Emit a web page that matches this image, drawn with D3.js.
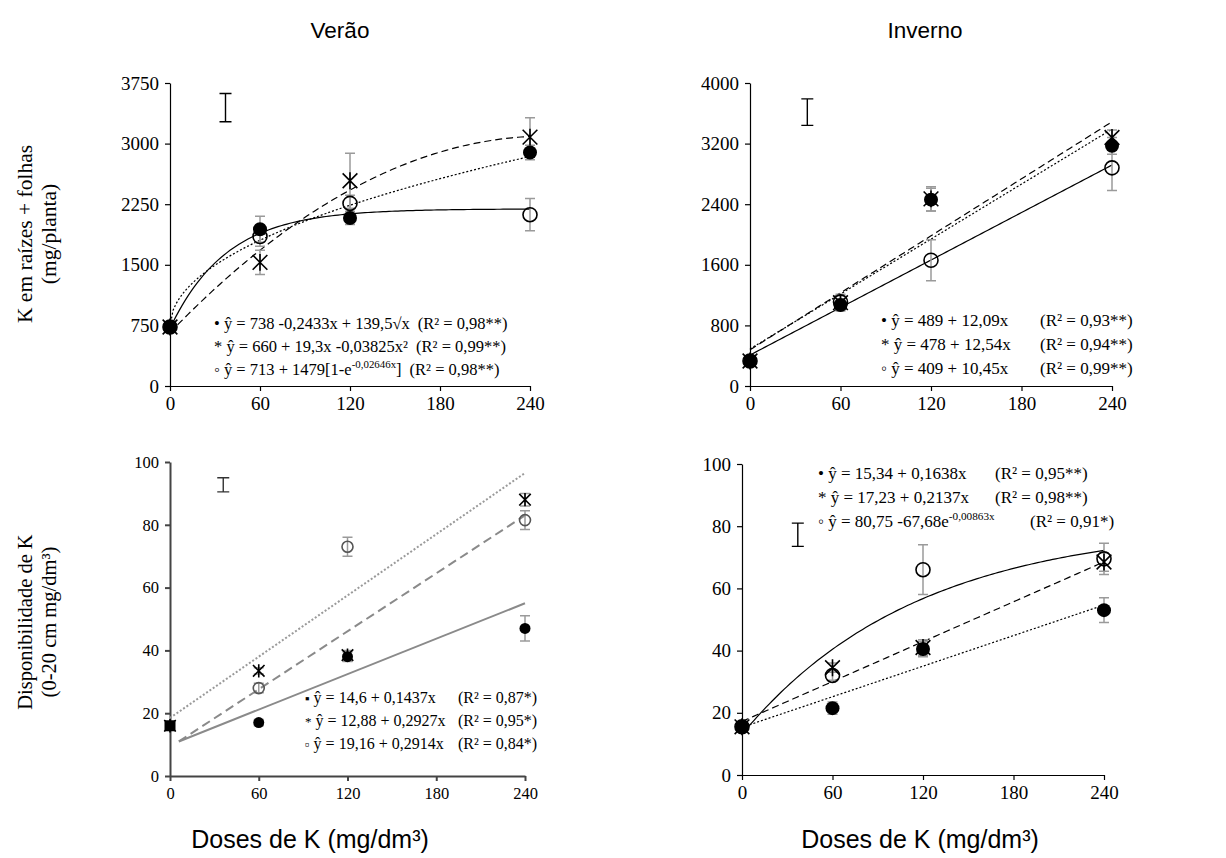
<!DOCTYPE html>
<html><head><meta charset="utf-8">
<script src="https://cdn.jsdelivr.net/npm/d3@7"></script>
<style>body{margin:0;background:#fff}svg{display:block}
.serif{font-family:"Liberation Serif","Times New Roman",Times,serif}
.sans{font-family:"Liberation Sans",Arial,Helvetica,sans-serif}
</style>
</head><body>
<svg id="c" width="1226" height="858"></svg>
<script>
// ---------- DATA ----------
const doses = [0, 60, 120, 240];
const xTickValues = [0, 60, 120, 180, 240];

// Panel A: Verão – K em raízes + folhas
const aTicks = [0, 750, 1500, 2250, 3000, 3750];
const aFilled = [730, 1940, 2080, 2890];
const aAst = [730, 1530, 2540, 3080];
const aOpen = [730, 1850, 2260, 2120];
const aFilledErr = [0, 160, 80, 90];
const aAstErr = [0, 150, 340, 240];
const aOpenErr = [0, 120, 100, 200];
const aMeanBar = [37, 3270, 3620];
const aFitFilled = [738, -0.2433, 139.5];   // a + b x + c sqrt(x)
const aFitAst = [660, 19.3, -0.03825];      // a + b x + c x^2
const aFitOpen = [713, 1479, -0.02646];     // a + b (1 - e^(c x))
const aSymbols = ["•", "*", "◦"];
const aEq = ["ŷ = 738 -0,2433x + 139,5√x", "ŷ = 660 + 19,3x -0,03825x²", "ŷ = 713 + 1479[1-e^{-0,02646x}]"];
const aR2 = ["(R² = 0,98**)", "(R² = 0,99**)", "(R² = 0,98**)"];

// Panel B: Inverno – K em raízes + folhas
const bTicks = [0, 800, 1600, 2400, 3200, 4000];
const bFilled = [330, 1070, 2460, 3170];
const bAst = [330, 1100, 2470, 3280];
const bOpen = [330, 1110, 1660, 2880];
const bFilledErr = [40, 80, 150, 110];
const bAstErr = [40, 90, 160, 100];
const bOpenErr = [40, 100, 270, 300];
const bMeanBar = [38, 3440, 3790];
const bFitFilled = [489, 12.09];
const bFitAst = [478, 12.54];
const bFitOpen = [409, 10.45];
const bSymbols = ["•", "*", "◦"];
const bEq = ["ŷ = 489 + 12,09x", "ŷ = 478 + 12,54x", "ŷ = 409 + 10,45x"];
const bR2 = ["(R² = 0,93**)", "(R² = 0,94**)", "(R² = 0,99**)"];

// Panel C: Verão – Disponibilidade de K
const cTicks = [0, 20, 40, 60, 80, 100];
const cFilled = [16, 17, 38, 47];
const cAst = [16, 33.5, 38.5, 88];
const cOpen = [16, 28, 73, 81.5];
const cFilledErr = [0, 1, 1.5, 4];
const cAstErr = [0, 1, 1.5, 2];
const cOpenErr = [0, 1.5, 3, 3];
const cMeanBar = [36, 90.5, 95];
const cLineFilled = [[6, 11], [240, 55]];
const cLineAst = [[6, 11], [240, 83]];
const cLineOpen = [[0, 18.5], [240, 96.5]];
const cSymbols = ["▪", "*", "▫"];
const cEq = ["ŷ = 14,6 + 0,1437x", "ŷ = 12,88 + 0,2927x", "ŷ = 19,16 + 0,2914x"];
const cR2 = ["(R² = 0,87*)", "(R² = 0,95*)", "(R² = 0,84*)"];

// Panel D: Inverno – Disponibilidade de K
const dTicks = [0, 20, 40, 60, 80, 100];
const dFilled = [15.5, 21.5, 40.5, 53];
const dAst = [15.5, 34.5, 41, 68.5];
const dOpen = [15.5, 32, 66, 69.5];
const dFilledErr = [1, 2, 2.5, 4];
const dAstErr = [1, 1.5, 2.5, 3];
const dOpenErr = [1, 1.5, 8, 5];
const dMeanBar = [37, 73.5, 81];
const dFitFilled = [15.34, 0.1638];
const dFitAst = [17.23, 0.2137];
const dFitOpen = [80.75, -67.68, -0.00863]; // a + b e^(c x)
const dSymbols = ["•", "*", "◦"];
const dEq = ["ŷ = 15,34 + 0,1638x", "ŷ = 17,23 + 0,2137x", "ŷ = 80,75 -67,68e^{-0,00863x}"];
const dR2 = ["(R² = 0,95**)", "(R² = 0,98**)", "(R² = 0,91*)"];

const titles = ["Verão", "Inverno"];
const xTitle = "Doses de K (mg/dm³)";
const yTitleTop = ["K em raízes + folhas", "(mg/planta)"];
const yTitleBottom = ["Disponibilidade de K", "(0-20 cm mg/dm³)"];

// ---------- DRAW ----------
const svg = d3.select("#c");
const xs = d3.range(0, 240.01, 2);

function richText(t, str, fs) {
  const parts = str.split(/(\^\{[^}]*\})/);
  let up = false;
  parts.forEach(p => {
    if (!p) return;
    if (p.startsWith("^{")) {
      t.append("tspan").style("font-size", (fs * 0.66) + "px").attr("dy", -fs * 0.4).text(p.slice(2, -1));
      up = true;
    } else {
      const s = t.append("tspan").text(p);
      if (up) { s.attr("dy", fs * 0.4); up = false; }
    }
  });
}

function asterisk(g, cx, cy, s, col, w) {
  g.append("path")
    .attr("d", `M${cx - s},${cy - s}L${cx + s},${cy + s}M${cx - s},${cy + s}L${cx + s},${cy - s}M${cx},${cy - s * 1.15}L${cx},${cy + s * 1.15}`)
    .attr("stroke", col).attr("stroke-width", w).attr("fill", "none");
}

function panel(o) {
  const g = svg.append("g");
  const x = d3.scaleLinear().domain([0, 240]).range([o.x0, o.x1]);
  const y = d3.scaleLinear().domain([0, o.yMax]).range([o.yB, o.yT]);
  const axCol = o.axCol || "#000";
  const xa = g.append("g").attr("transform", `translate(0,${o.yB})`)
    .call(d3.axisBottom(x).tickValues(xTickValues).tickFormat(d3.format("d")).tickSize(5).tickSizeOuter(0).tickPadding(6));
  const ya = g.append("g").attr("transform", `translate(${o.x0},0)`)
    .call(d3.axisLeft(y).tickValues(o.ticks).tickFormat(d3.format("d")).tickSize(5).tickSizeOuter(0).tickPadding(6));
  [xa, ya].forEach(a => {
    a.attr("font-family", null).attr("font-size", null);
    a.selectAll("path,line").attr("stroke", axCol).attr("stroke-width", o.axW || 1.2);
    a.selectAll("text").attr("class", "serif").style("font-size", (o.tickFs || 19) + "px").attr("fill", "#000");
  });

  // fitted lines
  const lineGen = d3.line().x(d => x(d[0])).y(d => y(d[1]));
  o.lines.forEach(L => {
    g.append("path").attr("d", lineGen(L.pts)).attr("fill", "none")
      .attr("stroke", L.col || "#000").attr("stroke-width", L.w || 1.2)
      .attr("stroke-dasharray", L.dash || null);
  });

  // mean bar (DMS)
  const mb = o.meanBar, cap = 6;
  g.append("path").attr("d",
    `M${x(mb[0])},${y(mb[1])}V${y(mb[2])}M${x(mb[0]) - cap},${y(mb[1])}H${x(mb[0]) + cap}M${x(mb[0]) - cap},${y(mb[2])}H${x(mb[0]) + cap}`)
    .attr("stroke", o.mbCol || "#000").attr("stroke-width", 1.4).attr("fill", "none");

  // error bars
  o.series.forEach(S => {
    doses.forEach((d, i) => {
      const e = S.err[i];
      if (!e) return;
      const cx = x(d), lo = y(S.v[i] - e), hi = y(S.v[i] + e);
      g.append("path").attr("d", `M${cx},${lo}V${hi}M${cx - 5},${lo}H${cx + 5}M${cx - 5},${hi}H${cx + 5}`)
        .attr("stroke", "#9a9a9a").attr("stroke-width", 1.5).attr("fill", "none");
    });
  });

  // markers
  const r = o.r || 7;
  o.series.forEach(S => {
    doses.forEach((d, i) => {
      const cx = x(d), cy = y(S.v[i]);
      if (S.type === "filled") {
        if (o.squareAt0 && i === 0) {
          g.append("rect").attr("x", cx - r).attr("y", cy - r).attr("width", 2 * r).attr("height", 2 * r).attr("fill", "#000");
        } else g.append("circle").attr("cx", cx).attr("cy", cy).attr("r", r).attr("fill", "#000");
      } else if (S.type === "open") {
        if (!(o.squareAt0 && i === 0))
          g.append("circle").attr("cx", cx).attr("cy", cy).attr("r", r).attr("fill", "none").attr("stroke", o.openCol || "#000").attr("stroke-width", 1.6);
      } else {
        asterisk(g, cx, cy, r * 1.05, "#000", 1.6);
      }
    });
  });

  // legend
  o.legend.eq.forEach((eq, i) => {
    const yy = o.legend.y + i * o.legend.dy;
    const t = g.append("text").attr("x", o.legend.x).attr("y", yy).attr("class", "serif")
      .style("font-size", o.legend.fs + "px").attr("fill", "#000");
    const sy = t.append("tspan").text(o.legend.sym[i]);
    if (o.legend.symFs) sy.style("font-size", o.legend.symFs + "px");
    t.append("tspan").text(" ");
    richText(t, eq, o.legend.fs);
    const end = o.legend.x + t.node().getComputedTextLength();
    g.append("text").attr("x", Math.max(o.legend.rx[i], end + 8)).attr("y", yy).attr("class", "serif")
      .style("font-size", o.legend.fs + "px").attr("fill", "#000")
      .text(o.legend.r2[i]);
  });
}

// curves from printed regression coefficients
const sqrtModel = c => xs.map(v => [v, c[0] + c[1] * v + c[2] * Math.sqrt(v)]);
const quadModel = c => xs.map(v => [v, c[0] + c[1] * v + c[2] * v * v]);
const asympModel = c => xs.map(v => [v, c[0] + c[1] * (1 - Math.exp(c[2] * v))]);
const linModel = c => xs.map(v => [v, c[0] + c[1] * v]);
const expModel = c => xs.map(v => [v, c[0] + c[1] * Math.exp(c[2] * v)]);

panel({
  x0: 170, x1: 530, yB: 386, yT: 83, yMax: 3750, ticks: aTicks, meanBar: aMeanBar,
  lines: [
    { pts: asympModel(aFitOpen) },
    { pts: sqrtModel(aFitFilled), dash: "2,2" },
    { pts: quadModel(aFitAst), dash: "7,4" }
  ],
  series: [
    { type: "filled", v: aFilled, err: aFilledErr },
    { type: "open", v: aOpen, err: aOpenErr },
    { type: "ast", v: aAst, err: aAstErr }
  ],
  legend: { x: 214, y: 329, dy: 23, fs: 16.5, sym: aSymbols, eq: aEq, r2: aR2, rx: [403, 403, 403] }
});

panel({
  x0: 750, x1: 1112, yB: 386, yT: 83, yMax: 4000, ticks: bTicks, meanBar: bMeanBar,
  lines: [
    { pts: linModel(bFitOpen) },
    { pts: linModel(bFitFilled), dash: "2,2" },
    { pts: linModel(bFitAst), dash: "7,4" }
  ],
  series: [
    { type: "filled", v: bFilled, err: bFilledErr },
    { type: "open", v: bOpen, err: bOpenErr },
    { type: "ast", v: bAst, err: bAstErr }
  ],
  legend: { x: 881, y: 326, dy: 24, fs: 17, sym: bSymbols, eq: bEq, r2: bR2, rx: [1040, 1040, 1040] }
});

panel({
  x0: 170, x1: 525, yB: 776, yT: 462, yMax: 100, ticks: cTicks, meanBar: cMeanBar,
  axCol: "#444", axW: 2, tickFs: 16.5, r: 5.5, squareAt0: true, openCol: "#555", mbCol: "#333",
  lines: [
    { pts: cLineFilled, col: "#8a8a8a", w: 2 },
    { pts: cLineAst, col: "#8a8a8a", w: 2, dash: "9,5" },
    { pts: cLineOpen, col: "#9a9a9a", w: 2, dash: "2,2" }
  ],
  series: [
    { type: "filled", v: cFilled, err: cFilledErr },
    { type: "open", v: cOpen, err: cOpenErr },
    { type: "ast", v: cAst, err: cAstErr }
  ],
  legend: { x: 305, y: 703, dy: 23, fs: 16, symFs: 13, sym: cSymbols, eq: cEq, r2: cR2, rx: [458, 458, 458] }
});

panel({
  x0: 742, x1: 1104, yB: 775, yT: 464, yMax: 100, ticks: dTicks, meanBar: dMeanBar,
  lines: [
    { pts: expModel(dFitOpen) },
    { pts: linModel(dFitFilled), dash: "2,2" },
    { pts: linModel(dFitAst), dash: "7,4" }
  ],
  series: [
    { type: "filled", v: dFilled, err: dFilledErr },
    { type: "open", v: dOpen, err: dOpenErr },
    { type: "ast", v: dAst, err: dAstErr }
  ],
  legend: { x: 818, y: 479, dy: 24, fs: 17, sym: dSymbols, eq: dEq, r2: dR2, rx: [995, 995, 1030] }
});

// titles
[[340, titles[0]], [925, titles[1]]].forEach(([cx, t]) =>
  svg.append("text").attr("x", cx).attr("y", 38).attr("text-anchor", "middle")
    .attr("class", "sans").style("font-size", "22.5px").text(t));
[310, 920].forEach(cx =>
  svg.append("text").attr("x", cx).attr("y", 848).attr("text-anchor", "middle")
    .attr("class", "sans").style("font-size", "25px").text(xTitle));
function yTitle(lines, cy, fs) {
  lines.forEach((s, i) => {
    svg.append("text").attr("transform", `translate(${32 + i * 24},${cy}) rotate(-90)`)
      .attr("text-anchor", "middle").attr("class", "serif").style("font-size", fs + "px").text(s);
  });
}
yTitle(yTitleTop, 234, 21.5);
yTitle(yTitleBottom, 622, 20.5);
</script>
</body></html>
